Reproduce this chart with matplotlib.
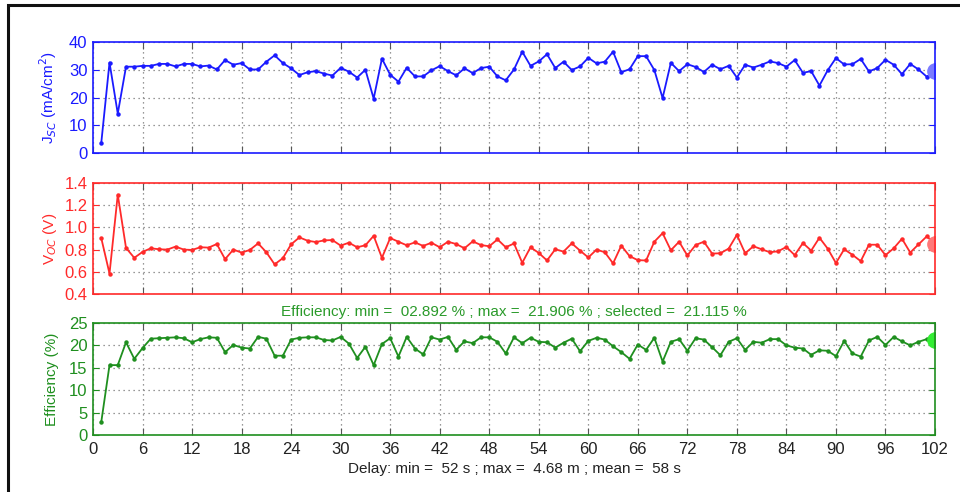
import matplotlib
matplotlib.use("Agg")
from matplotlib import pyplot as plt
from matplotlib.patches import Rectangle
import numpy as np

plt.rcParams["font.family"] = ["Liberation Sans", "DejaVu Sans"]

# measurement index 1..102
run = np.arange(1, 103)

jsc = [3.6, 32.6, 14.2, 31.1, 31.1, 31.4, 31.4, 32.1, 32.1, 31.2,
       32.1, 32.1, 31.2, 31.5, 30.1, 33.5, 31.8, 32.4, 30.1, 30.1,
       32.9, 35.2, 32.4, 30.5, 28.1, 29.1, 29.5, 28.6, 27.9, 30.7,
       29.3, 27.2, 30.0, 19.6, 34.0, 28.2, 25.7, 30.7, 27.6, 27.6,
       29.8, 31.3, 29.5, 28.0, 30.5, 28.8, 30.6, 31.1, 27.6, 26.2,
       30.1, 36.5, 31.4, 33.0, 35.6, 30.6, 32.9, 29.9, 31.2, 34.3,
       32.3, 32.9, 36.5, 29.1, 30.2, 34.9, 34.9, 29.9, 19.8, 32.5,
       29.5, 32.0, 31.0, 29.2, 31.8, 30.2, 31.4, 27.2, 31.8, 30.8,
       31.8, 33.0, 32.4, 31.1, 33.5, 28.9, 29.5, 24.3, 29.8, 34.2,
       31.9, 32.0, 33.9, 29.4, 30.6, 33.6, 31.8, 28.4, 32.1, 30.1,
       27.5, 29.4]

voc = [0.904, 0.584, 1.295, 0.815, 0.726, 0.779, 0.812, 0.803, 0.800, 0.827,
       0.800, 0.797, 0.821, 0.818, 0.850, 0.714, 0.800, 0.773, 0.797, 0.856,
       0.776, 0.667, 0.723, 0.847, 0.910, 0.880, 0.868, 0.883, 0.886, 0.836,
       0.862, 0.821, 0.839, 0.924, 0.726, 0.904, 0.871, 0.839, 0.865, 0.833,
       0.862, 0.821, 0.871, 0.850, 0.812, 0.874, 0.841, 0.830, 0.892, 0.821,
       0.855, 0.681, 0.821, 0.770, 0.702, 0.803, 0.782, 0.856, 0.791, 0.729,
       0.800, 0.776, 0.676, 0.836, 0.741, 0.705, 0.702, 0.871, 0.948, 0.794,
       0.871, 0.747, 0.841, 0.871, 0.764, 0.767, 0.809, 0.933, 0.767, 0.830,
       0.803, 0.776, 0.785, 0.824, 0.750, 0.859, 0.791, 0.907, 0.809, 0.679,
       0.803, 0.753, 0.696, 0.844, 0.844, 0.750, 0.812, 0.898, 0.773, 0.847,
       0.919, 0.853]

eff = [2.892, 15.6, 15.6, 20.7, 17.0, 19.4, 21.5, 21.6, 21.7, 21.8,
       21.6, 20.7, 21.4, 21.8, 21.7, 18.5, 20.1, 19.5, 19.3, 21.906,
       21.5, 17.7, 17.7, 21.3, 21.7, 21.8, 21.8, 21.2, 21.1, 21.9,
       20.4, 17.2, 19.7, 15.6, 20.3, 21.6, 17.5, 21.9, 19.3, 18.0,
       21.8, 21.3, 21.9, 19.0, 20.9, 20.5, 21.8, 21.8, 20.8, 18.2,
       21.8, 20.5, 21.7, 20.8, 20.7, 19.5, 20.6, 21.5, 18.7, 21.0,
       21.7, 21.3, 19.8, 18.5, 17.0, 20.2, 19.0, 21.7, 16.4, 20.8,
       21.4, 18.8, 21.6, 21.3, 19.6, 17.8, 20.8, 21.6, 19.0, 20.8,
       20.6, 21.4, 21.4, 20.0, 19.5, 19.3, 17.9, 18.9, 18.8, 17.6,
       21.0, 18.2, 17.5, 21.1, 21.9, 20.1, 21.9, 20.9, 20.0, 20.8,
       21.4, 21.115]

x_ticks = list(range(0, 103, 6))
eff_title = "Efficiency: min =  02.892 % ; max =  21.906 % ; selected =  21.115 %"
delay_label = "Delay: min =  52 s ; max =  4.68 m ; mean =  58 s"

fig = plt.figure(figsize=(9.6, 4.92), dpi=100)

# black frame around the figure (cut off at right / bottom like the screenshot)
fig.patches.append(Rectangle((8 / 960, -0.1), 1.2, 1 - 5 / 492 + 0.1,
                             transform=fig.transFigure, fill=False,
                             edgecolor="#111111", linewidth=2.2))

left, width = 93 / 960, 842 / 960
panels = [
    # data, color, dot colour, ylim, yticks, ylabel, top px, bottom px
    (jsc, "#1a1aff", "#7b7bff", (0, 40), [0, 10, 20, 30, 40],
     "J$_{SC}$ (mA/cm$^2$)", 42, 153),
    (voc, "#ff2a2a", "#ff7878", (0.4, 1.4), [0.4, 0.6, 0.8, 1.0, 1.2, 1.4],
     "V$_{OC}$ (V)", 183, 294),
    (eff, "#1f8f1f", "#33ee33", (0, 25), [0, 5, 10, 15, 20, 25],
     "Efficiency (%)", 323, 435),
]

axes = []
for data, col, dotcol, ylim, yticks, ylabel, top, bot in panels:
    ax = fig.add_axes([left, 1 - bot / 492, width, (bot - top) / 492])
    ax.plot(run, data, "-", color=col, lw=1.3, marker="o", ms=2.2)
    ax.plot(run[-1], data[-1], "o", color=dotcol, ms=11)
    ax.set_xlim(0, 102)
    ax.set_ylim(*ylim)
    ax.set_xticks(x_ticks)
    ax.set_yticks(yticks)
    if ylim[1] < 2:
        ax.set_yticklabels(["%.1f" % v for v in yticks])
    ax.grid(True, color="#777777", linestyle=(0, (1, 3)), lw=0.9)
    for s in ax.spines.values():
        s.set_color(col)
        s.set_linewidth(1.2)
    ax.tick_params(axis="x", direction="in", top=True, length=5,
                   color="#555555", labelsize=12, labelcolor="#222222", pad=5)
    ax.tick_params(axis="y", direction="in", right=True, length=4,
                   color=col, labelsize=12, labelcolor=col, pad=4)
    ax.set_ylabel(ylabel, color=col, fontsize=11)
    ax.yaxis.set_label_coords(-0.040, 0.5)
    axes.append(ax)

axes[0].tick_params(labelbottom=False)
axes[1].tick_params(labelbottom=False)
axes[2].set_title(eff_title, color="#2a9a2a", fontsize=11, pad=5)
axes[2].set_xlabel(delay_label, color="#222222", fontsize=11, labelpad=4)

plt.savefig("out.png", dpi=100)
